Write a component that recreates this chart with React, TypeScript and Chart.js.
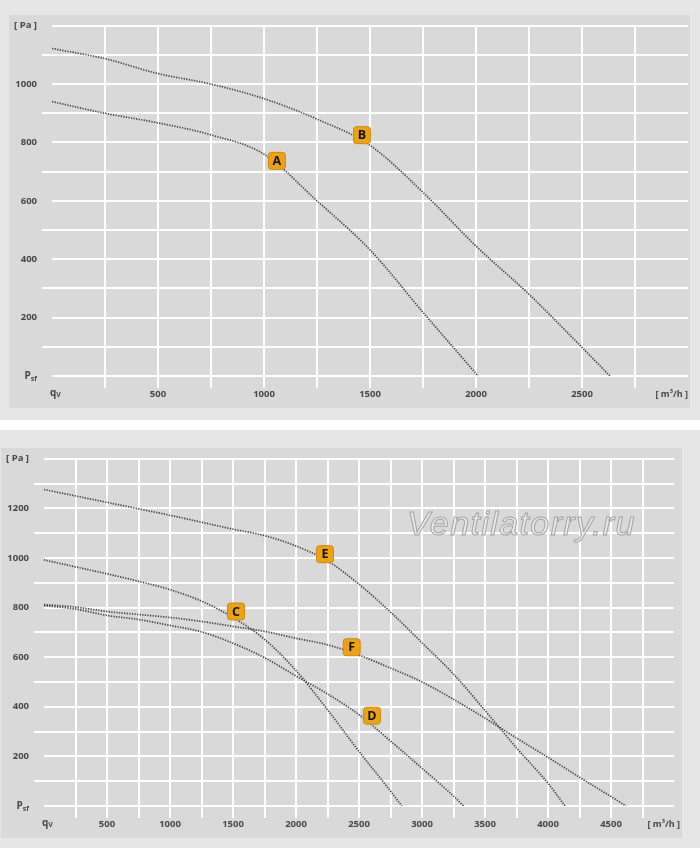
import { useEffect, useRef } from 'react'
import { Chart, registerables } from 'chart.js'

Chart.register(...registerables)

// upper chart: fans A and B
const flowA = [0, 250, 500, 750, 1000, 1250, 1500, 1750, 2010]
const pressureA = [940, 900, 867, 826, 760, 600, 432, 218, 0]
const flowB = [0, 250, 500, 750, 1000, 1250, 1500, 1750, 2000, 2250, 2500, 2632]
const pressureB = [1122, 1087, 1036, 1000, 950, 880, 790, 629, 445, 280, 98, 0]

// lower chart: fans C, D, E, F
const flowC = [0, 250, 500, 750, 1000, 1250, 1500, 1750, 2000, 2250, 2500, 2750, 2840]
const pressureC = [992, 964, 936, 906, 872, 826, 760, 672, 546, 388, 220, 60, 0]
const flowD = [0, 250, 500, 750, 1000, 1250, 1500, 1750, 2000, 2250, 2500, 2750, 3000, 3250, 3330]
const pressureD = [808, 794, 768, 752, 728, 702, 656, 598, 524, 452, 368, 262, 152, 40, 0]
const flowE = [0, 250, 500, 750, 1000, 1250, 1500, 1750, 2000, 2250, 2500, 2750, 3000, 3250, 3500, 3750, 4000, 4135]
const pressureE = [1276, 1250, 1224, 1198, 1172, 1144, 1116, 1090, 1048, 988, 894, 782, 658, 532, 385, 234, 92, 0]
const flowF = [0, 250, 500, 750, 1000, 1250, 1500, 1750, 2000, 2250, 2500, 2750, 3000, 3250, 3500, 3750, 4000, 4250, 4500, 4620]
const pressureF = [812, 802, 784, 772, 760, 744, 724, 704, 676, 650, 608, 556, 500, 430, 354, 274, 196, 116, 38, 0]

// letter tags sitting on the curves (flow, pressure)
const tagNamesTop = ['A', 'B']
const tagFlowTop = [1061, 1462]
const tagPressureTop = [737, 825]
const tagNamesBottom = ['C', 'D', 'E', 'F']
const tagFlowBottom = [1524, 2603, 2230, 2442]
const tagPressureBottom = [784, 364, 1015, 640]

const TICK_COLOR = '#474747'
const FONT = "'Open Sans', 'DejaVu Sans', sans-serif"

type Curve = { flow: number[]; pressure: number[] }

interface FanChartProps {
  curves: Curve[]
  tagNames: string[]
  tagFlow: number[]
  tagPressure: number[]
  xMax: number
  yMax: number
  padTop: number
  padRight: number
}

function FanChart({ curves, tagNames, tagFlow, tagPressure, xMax, yMax, padTop, padRight }: FanChartProps) {
  const canvasRef = useRef<HTMLCanvasElement>(null)

  useEffect(() => {
    if (!canvasRef.current) return

    const extras = {
      id: 'fanExtras',
      afterDraw(chart: any) {
        const { ctx, chartArea, scales: { x, y } } = chart
        ctx.save()
        // axis symbols
        ctx.fillStyle = TICK_COLOR
        ctx.textBaseline = 'middle'
        const y0 = y.getPixelForValue(0)
        ctx.font = `bold 10px ${FONT}`
        const wP = ctx.measureText('P').width
        ctx.font = `bold 7px ${FONT}`
        const wSf = ctx.measureText('sf').width
        const px = chartArea.left - 15 - wP - wSf
        ctx.textAlign = 'left'
        ctx.font = `bold 10px ${FONT}`
        ctx.fillText('P', px, y0)
        ctx.font = `bold 7px ${FONT}`
        ctx.fillText('sf', px + wP, y0 + 3)

        const xl = x.getPixelForValue(0) - 2
        const yl = chartArea.bottom + 18
        ctx.font = `bold 10px ${FONT}`
        ctx.fillText('q', xl, yl - 1)
        const wq = ctx.measureText('q').width
        ctx.font = `bold 7px ${FONT}`
        ctx.fillText('V', xl + wq, yl + 1)

        ctx.textAlign = 'right'
        ctx.font = `bold 9px ${FONT}`
        ctx.fillText('[ m³/h ]', chart.width - 2, yl)

        // letter tags
        tagNames.forEach((name, i) => {
          const cx = x.getPixelForValue(tagFlow[i])
          const cy = y.getPixelForValue(tagPressure[i])
          const s = 17
          ctx.beginPath()
          ctx.roundRect(cx - s / 2, cy - s / 2, s, s, 3)
          ctx.fillStyle = '#eca313'
          ctx.fill()
          ctx.strokeStyle = '#d08a08'
          ctx.lineWidth = 1
          ctx.stroke()
          ctx.fillStyle = '#111'
          ctx.font = `bold 12.5px ${FONT}`
          ctx.textAlign = 'center'
          ctx.textBaseline = 'middle'
          ctx.fillText(name, cx, cy + 0.5)
        })
        ctx.restore()
      },
    }

    const tickFont = { family: FONT, size: 9.5, weight: 'bold' as const }

    const chart = new Chart(canvasRef.current, {
      type: 'line',
      plugins: [extras],
      data: {
        datasets: curves.map(c => ({
          data: c.flow.map((q, i) => ({ x: q, y: c.pressure[i] })),
          borderColor: '#444444',
          borderWidth: 1.7,
          borderDash: [1.3, 1.3],
          pointRadius: 0,
          cubicInterpolationMode: 'monotone' as const,
          fill: false,
        })),
      },
      options: {
        animation: false,
        responsive: true,
        maintainAspectRatio: false,
        events: [],
        layout: { padding: { top: padTop, right: padRight, left: 0, bottom: 0 } },
        plugins: { legend: { display: false }, tooltip: { enabled: false } },
        scales: {
          x: {
            type: 'linear',
            min: 0,
            max: xMax,
            afterFit: (s: any) => { s.height = 32 },
            border: { display: false },
            grid: {
              color: (ctx: any) => (ctx.tick && (ctx.tick.value === 0 || ctx.tick.value === xMax)) ? 'rgba(0,0,0,0)' : '#ffffff',
              lineWidth: 2,
              tickLength: 12,
            },
            ticks: {
              stepSize: 250,
              autoSkip: false,
              maxRotation: 0,
              padding: 1,
              color: TICK_COLOR,
              font: tickFont,
              callback: (v: any) => (v % 500 === 0 && v > 0 && v < xMax) ? String(v) : '',
            },
          },
          y: {
            min: 0,
            max: yMax,
            afterFit: (s: any) => { s.width = 43 },
            border: { display: false },
            grid: {
              color: '#ffffff',
              lineWidth: 2,
              tickLength: 10,
              tickColor: (ctx: any) => (ctx.tick && ctx.tick.value % 200 !== 0) ? '#ffffff' : 'rgba(0,0,0,0)',
            },
            ticks: {
              stepSize: 100,
              autoSkip: false,
              padding: 5,
              color: TICK_COLOR,
              font: tickFont,
              callback: (v: any) => v === yMax ? '[ Pa ]' : (v % 200 === 0 && v > 0) ? String(v) : '',
            },
          },
        },
      },
    })

    return () => { chart.destroy() }
  }, [curves, tagNames, tagFlow, tagPressure, xMax, yMax, padTop, padRight])

  return (
    <div style={{ position: 'absolute', inset: 0 }}>
      <canvas ref={canvasRef} />
    </div>
  )
}

const topCurves = [
  { flow: flowA, pressure: pressureA },
  { flow: flowB, pressure: pressureB },
]
const bottomCurves = [
  { flow: flowC, pressure: pressureC },
  { flow: flowD, pressure: pressureD },
  { flow: flowE, pressure: pressureE },
  { flow: flowF, pressure: pressureF },
]

export default function App() {
  useEffect(() => {
    document.body.style.margin = '0'
  }, [])

  return (
    <div style={{ position: 'relative', width: 700, height: 848, background: '#fff', overflow: 'hidden' }}>
      <div style={{ position: 'absolute', left: 0, top: 0, width: 700, height: 420, background: '#e6e6e6' }} />
      <div style={{ position: 'absolute', left: 9, top: 15, width: 681, height: 393, background: '#d9d9d9' }}>
        <FanChart curves={topCurves} tagNames={tagNamesTop} tagFlow={tagFlowTop} tagPressure={tagPressureTop}
          xMax={3000} yMax={1200} padTop={6} padRight={2} />
      </div>
      <div style={{ position: 'absolute', left: 0, top: 430, width: 700, height: 418, background: '#e6e6e6' }} />
      <div style={{ position: 'absolute', left: 1, top: 448, width: 681, height: 390, background: '#d9d9d9' }}>
        <FanChart curves={bottomCurves} tagNames={tagNamesBottom} tagFlow={tagFlowBottom} tagPressure={tagPressureBottom}
          xMax={5000} yMax={1400} padTop={8} padRight={8} />
        <div style={{
          position: 'absolute', left: 406, top: 58, lineHeight: 1, fontSize: 34,
          fontFamily: "'Liberation Sans', Arial, sans-serif", fontStyle: 'italic', letterSpacing: 1.4,
          color: 'rgba(236,236,236,0.85)', WebkitTextStroke: '1px #a2a2a2', whiteSpace: 'nowrap',
          pointerEvents: 'none',
        }}>Ventilatorry.ru</div>
      </div>
    </div>
  )
}
